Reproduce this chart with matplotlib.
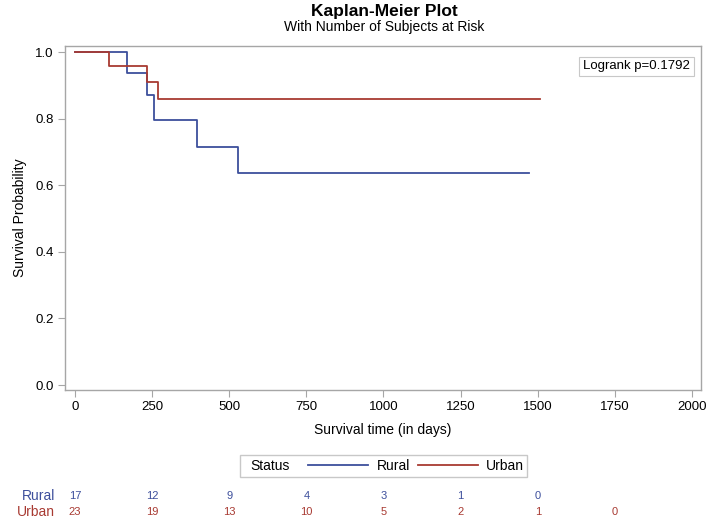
import matplotlib.pyplot as plt
import matplotlib.transforms as mtransforms
from matplotlib.patches import Rectangle
import numpy as np

plt.rcParams['font.family'] = ['Liberation Sans Narrow', 'Liberation Sans', 'DejaVu Sans']

# Kaplan-Meier step values
rural_t = [0, 169, 233, 256, 395, 528, 1472]
rural_s = [1.0, 0.9375, 0.870, 0.797, 0.715, 0.636, 0.636]
urban_t = [0, 110, 233, 269, 1507]
urban_s = [1.0, 0.957, 0.909, 0.859, 0.859]

# number at risk table
risk_times = [0, 250, 500, 750, 1000, 1250, 1500, 1750]
rural_risk = [17, 12, 9, 4, 3, 1, 0]
urban_risk = [23, 19, 13, 10, 5, 2, 1, 0]

blue = '#3d4f9c'
red = '#a83a32'
grey = '#a6a6a6'

fig = plt.figure(figsize=(7.09, 5.21), dpi=100)
ax = fig.add_axes([0.0917, 0.2514, 0.897, 0.6609])

ax.step(rural_t, rural_s, where='post', color=blue, lw=1.3, label='Rural')
ax.step(urban_t, urban_s, where='post', color=red, lw=1.3, label='Urban')

ax.set_xlim(-32, 2029)
ax.set_ylim(-0.015, 1.019)
ax.set_xticks(np.arange(0, 2001, 250))
ax.set_yticks([0.0, 0.2, 0.4, 0.6, 0.8, 1.0])
ax.set_yticklabels(['0.0', '0.2', '0.4', '0.6', '0.8', '1.0'])
ax.tick_params(direction='out', length=5, color=grey, labelsize=9.5, pad=3)
for sp in ax.spines.values():
    sp.set_color(grey)
    sp.set_linewidth(1.0)

ax.set_xlabel('Survival time (in days)', fontsize=10, labelpad=7)
ax.set_ylabel('Survival Probability', fontsize=10, labelpad=6)

fig.text(0.542, 0.978, 'Kaplan-Meier Plot', ha='center', va='center',
         fontsize=12.5, fontweight='bold')
fig.text(0.542, 0.948, 'With Number of Subjects at Risk', ha='center', va='center',
         fontsize=10)

ax.text(0.983, 0.957, 'Logrank p=0.1792', transform=ax.transAxes, ha='right', va='top',
        fontsize=9.5, bbox=dict(boxstyle='square,pad=0.3', fc='white', ec='#c8c8c8', lw=0.8))

# legend with Status label, framed
fig.text(0.353, 0.105, 'Status', ha='left', va='center', fontsize=10)
fig.legend(loc='center left', bbox_to_anchor=(0.435, 0.105), ncol=2, frameon=False,
           fontsize=10, handlelength=4.3, handletextpad=0.6, columnspacing=0.6,
           borderpad=0, borderaxespad=0)
fig.patches.append(Rectangle((0.338, 0.085), 0.405, 0.042, transform=fig.transFigure,
                             fill=False, ec='#c8c8c8', lw=1.0))

# at-risk table
trans = mtransforms.blended_transform_factory(ax.transData, fig.transFigure)
fig.text(0.078, 0.048, 'Rural', ha='right', va='center', color=blue, fontsize=10)
fig.text(0.078, 0.017, 'Urban', ha='right', va='center', color=red, fontsize=10)
for t, n in zip(risk_times, rural_risk):
    ax.text(t, 0.048, str(n), transform=trans, ha='center', va='center', color=blue, fontsize=8)
for t, n in zip(risk_times, urban_risk):
    ax.text(t, 0.017, str(n), transform=trans, ha='center', va='center', color=red, fontsize=8)

fig.savefig('out.png', dpi=100)
